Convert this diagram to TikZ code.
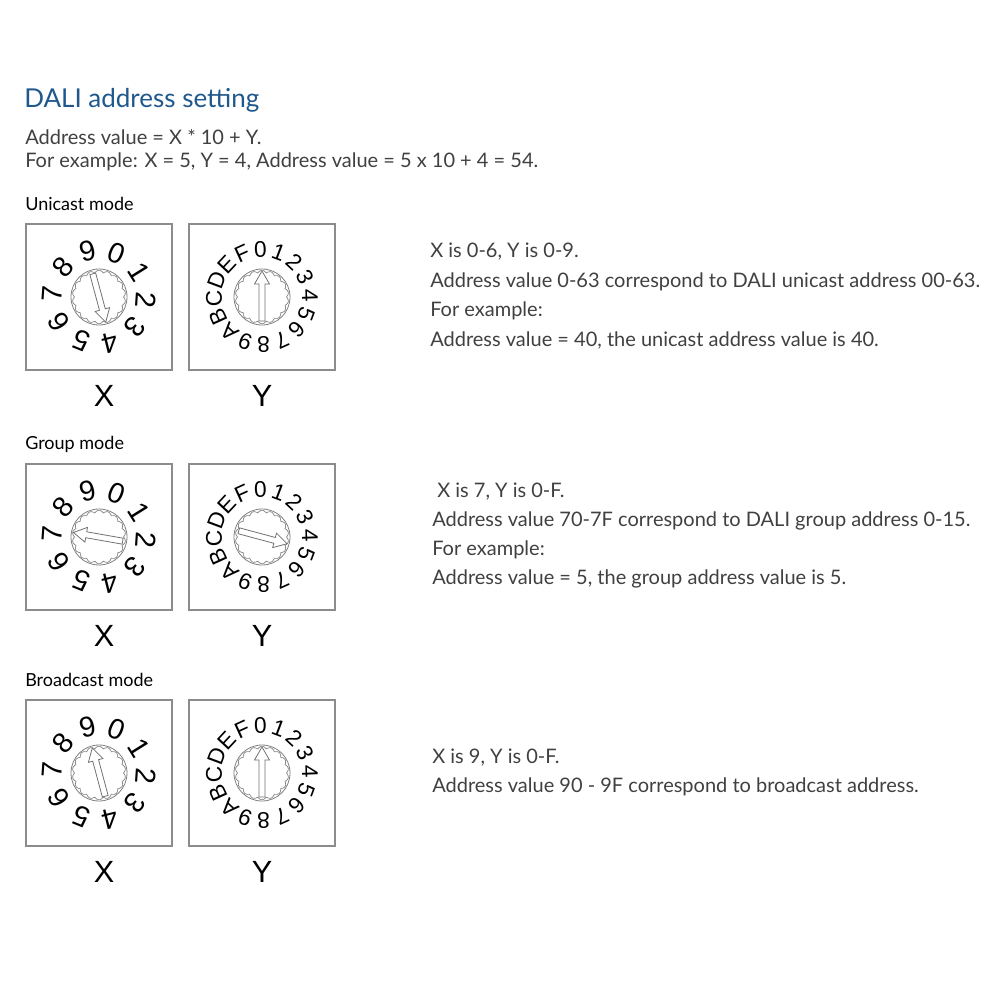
\documentclass[tikz,border=0pt]{standalone}
\usepackage{fontspec}
\setmainfont{Lato}
\newfontfamily\arialf{Liberation Sans}
\newcommand\digfont{\arialf\fontsize{21.5}{23}\selectfont}
\newcommand\ydigfont{\arialf\fontsize{17}{18}\selectfont}
\begin{document}
\begin{tikzpicture}[x=0.75pt,y=-0.75pt,
  box/.style={draw=black!45,line width=0.8pt},
  txt/.style={anchor=west,inner sep=0pt,font=\fontsize{15}{17}\selectfont,text=black!75},
  hd/.style={anchor=west,inner sep=0pt,font=\fontsize{13.5}{15}\selectfont},
  lbl/.style={font=\arialf\fontsize{23}{24}\selectfont}]
\useasboundingbox (0,0) rectangle (1001,1001);
\newcommand\knob[1]{%
  \draw[black!50,line width=0.6pt] (0,0) circle (28);
  \draw[black!50,line width=0.5pt] plot[domain=0:360,samples=181,smooth] (\x:{24.5+2.2*abs(sin(9*\x))}) -- cycle;
  \draw[black!55,line width=0.6pt,fill=white,rotate=#1] (-24,-3)--(13,-3)--(13,-7.5)--(26,0)--(13,7.5)--(13,3)--(-24,3)--cycle;}
\newcommand\xdial[3]{%
  \begin{scope}[shift={(#1,#2)},y=0.75pt]
  \knob{#3}
  \foreach \d [count=\i from 0] in {0,1,2,3,4,5,6,7,8,9}
    \node[inner sep=0pt,rotate={68-36*\i-90}] (d\i) at ({68-36*\i}:47) {\digfont\d};
  \end{scope}}
\newcommand\ydial[3]{%
  \begin{scope}[shift={(#1,#2)},y=0.75pt]
  \knob{#3}
  \foreach \d [count=\i from 0] in {0,1,2,3,4,5,6,7,8,9,A,B,C,D,E,F}
    \node[inner sep=0pt,rotate={92-22.5*\i-90}] (e\i) at ({92-22.5*\i}:48) {\ydigfont\d};
  \end{scope}}
\node[anchor=west,inner sep=0pt,font=\fontsize{19.5}{21}\selectfont,text={rgb,255:red,31;green,88;blue,140}] (title) at (24,100) {DALI address setting};
\node[txt] (t1) at (25,137) {Address value = X * 10 + Y.};
\node[txt] (t2) at (25,162) {For example: X = 5, Y = 4, Address value = 5 x 10 + 4 = 54.};
\foreach \yb/\name [count=\k] in {224/Unicast mode,464/Group mode,700/Broadcast mode}{
  \node[hd] (h\k) at (25,\yb-20) {\name};
  \draw[box] (26,\yb) rectangle (172,\yb+146);
  \draw[box] (189,\yb) rectangle (335,\yb+146);
  \node[lbl] (x\k) at (104,\yb+172) {X};
  \node[lbl] (y\k) at (262,\yb+172) {Y};
}
\xdial{99}{297}{-75}
\ydial{262}{297}{90}
\xdial{99}{537}{170}
\ydial{262}{537}{-15}
\xdial{99}{773}{105}
\ydial{262}{773}{90}
\node[txt] (u1) at (430,252) {X is 0-6, Y is 0-9.};
\node[txt] (u2) at (430,282) {Address value 0-63 correspond to DALI unicast address 00-63.};
\node[txt] (u3) at (430,311) {For example:};
\node[txt] (u4) at (430,340) {Address value = 40, the unicast address value is 40.};
\node[txt] (g1) at (437,492) {X is 7, Y is 0-F.};
\node[txt] (g2) at (432,521) {Address value 70-7F correspond to DALI group address 0-15.};
\node[txt] (g3) at (432,550) {For example:};
\node[txt] (g4) at (432,579) {Address value = 5, the group address value is 5.};
\node[txt] (b1) at (432,758) {X is  9, Y is 0-F.};
\node[txt] (b2) at (432,787) {Address value 90 - 9F correspond to broadcast address.};
\end{tikzpicture}
\end{document}
